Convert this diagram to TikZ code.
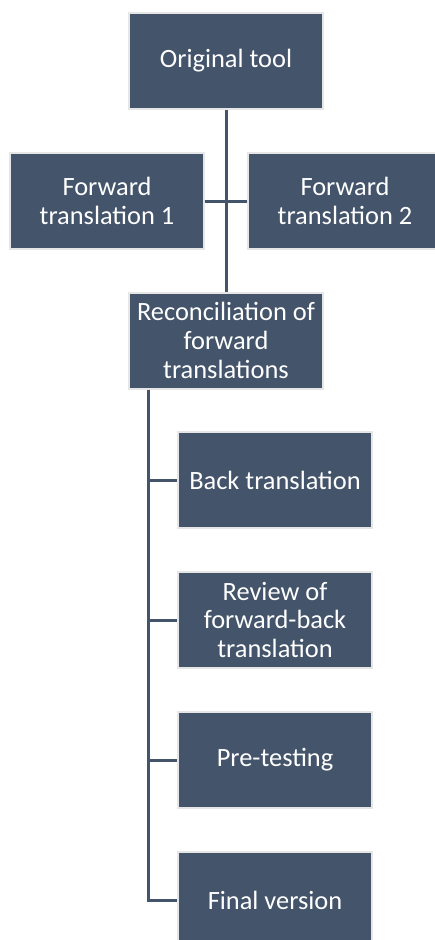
\documentclass[tikz,border=0pt]{standalone}
\usepackage{fontspec}
\setmainfont{Carlito}
\usetikzlibrary{positioning}
\definecolor{slate}{HTML}{44546A}
\definecolor{rim}{HTML}{E6E6E6}

\begin{document}
\begin{tikzpicture}[x=0.75pt,y=-0.75pt,
    stage/.style={rectangle,draw=rim,fill=slate,line width=1.5pt,text=white,
      minimum width=145pt,minimum height=72pt,align=center,
      font=\fontsize{19.8}{21.6}\selectfont},
    link/.style={draw=slate,line width=2.25pt},
    node distance=31.5pt]
       \useasboundingbox (0,0) rectangle (435,940);

       \node[stage] (orig) at (226,61) {Original tool};
       \node[stage] (fwd1) at (107,201) {Forward\\translation 1};
       \node[stage] (fwd2) at (345,201) {Forward\\translation 2};
       \node[stage] (recon) at (226,340.5) {Reconciliation of\\forward\\translations};

       \node[stage] (back) at (275,480) {Back translation};
       \node[stage] (review) [below=of back] {Review of\\forward-back\\translation};
       \node[stage] (pretest) [below=of review] {Pre-testing};
       \node[stage] (final) [below=of pretest] {Final version};

       \draw [link] (orig) -- (recon);
       \draw [link] (fwd1) -- (fwd2);
       \coordinate (spine) at ([xshift=15pt]recon.south west);
       \foreach \n in {back,review,pretest,final}
         \draw [link] (spine) |- (\n.west);
    \end{tikzpicture}
\end{document}
